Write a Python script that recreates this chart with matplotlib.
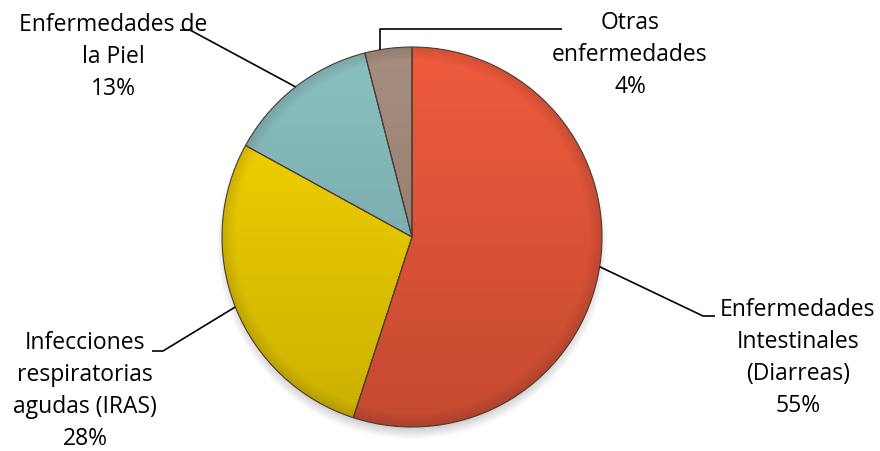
import numpy as np
import matplotlib.pyplot as plt
from matplotlib.colors import to_rgb

# Datos del grafico
labels = ['Enfermedades\nIntestinales\n(Diarreas)',
          'Infecciones\nrespiratorias\nagudas (IRAS)',
          'Enfermedades de\nla Piel',
          'Otras\nenfermedades']
values = [55, 28, 13, 4]
colors = ['#DE5438', '#E6C700', '#80B2B3', '#9A8376']

W, H = 880, 451
cx, cy, R = 412, H - 237, 190

# posiciones de etiquetas y codos de las lineas guia (pixeles desde arriba)
label_pos = [(798, 358), (85, 391), (113, 57), (630, 55)]
elbows = [[(703, 316), (715, 316)],
          [(163, 351), (152, 351)],
          [(190, 30), (180, 30)],
          [(None, 29), (562, 29)]]

fig = plt.figure(figsize=(8.8, 4.51), dpi=100)
ax = fig.add_axes([0, 0, 1, 1])

wedges, _ = ax.pie(values, colors=colors, startangle=90, counterclock=False,
                   center=(cx, cy), radius=R,
                   wedgeprops=dict(edgecolor='#4a3b33', linewidth=0.8))
ax.set_xlim(0, W)
ax.set_ylim(0, H)
ax.set_aspect('equal')
ax.axis('off')

# sombra suave debajo del pastel
n = 300
sx = np.linspace(cx - R - 30, cx + R + 30, n)
sy = np.linspace(cy - R - 40, cy + R + 20, n)
SX, SY = np.meshgrid(sx, sy)
d = np.hypot(SX - cx, SY - (cy - 7))
shadow = np.zeros((n, n, 4))
shadow[..., :3] = 0.35
shadow[..., 3] = 0.35 * np.clip((R + 6 - d) / 14, 0, 1)
ax.imshow(shadow, extent=(sx[0], sx[-1], sy[0], sy[-1]), origin='lower',
          zorder=0.5, interpolation='bilinear')

# degradado en cada porcion
n = 400
gx = np.linspace(cx - R, cx + R, n)
gy = np.linspace(cy - R, cy + R, n)
GX, GY = np.meshgrid(gx, gy)
t = (cy + R - GY) / (2 * R)
r = np.hypot(GX - cx, GY - cy) / R
shade = 1.08 - 0.2 * t
edge = np.clip((r - 0.93) / 0.07, 0, 1)
shade = shade * (1 - 0.12 * edge)

for w, c in zip(wedges, colors):
    img = np.clip(np.array(to_rgb(c))[None, None, :] * shade[..., None], 0, 1)
    im = ax.imshow(img, extent=(gx[0], gx[-1], gy[0], gy[-1]), origin='lower',
                   zorder=1, interpolation='bilinear')
    im.set_clip_path(w)
    w.set_facecolor('none')
    w.set_zorder(2)

# lineas guia y etiquetas
total = sum(values)
cum = 0
for v, lab, pos, elb in zip(values, labels, label_pos, elbows):
    ang = np.deg2rad(90 - 360 * (cum + v / 2) / total)
    cum += v
    ex, ey = cx + R * np.cos(ang), cy + R * np.sin(ang)
    if elb[0][0] is None:
        # la guia de "Otras" sube vertical desde el borde
        ex = ex - 8
        ey = cy + np.sqrt(R ** 2 - (ex - cx) ** 2)
    xs, ys = [ex], [ey]
    for px, py in elb:
        xs.append(ex if px is None else px)
        ys.append(H - py)
    ax.plot(xs, ys, color='black', lw=1.2, zorder=3, solid_capstyle='butt')
    pct = '%d%%' % round(100 * v / total)
    ax.text(pos[0], H - pos[1], lab + '\n' + pct, ha='center', va='center',
            multialignment='center', fontsize=16.5, family='Open Sans',
            linespacing=1.45, color='black', zorder=4)

fig.savefig('out.png', dpi=100)
